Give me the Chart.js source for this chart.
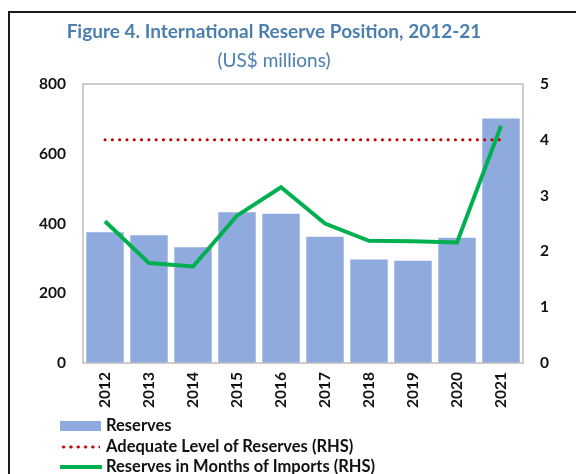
<!DOCTYPE html>
<html>
<head>
<meta charset="utf-8">
<title>International Reserve Position</title>
<script src="https://cdn.jsdelivr.net/npm/chart.js@4"></script>
<style>
    body { margin: 0; background: #fff; font-family: Lato, "Open Sans", sans-serif; }
    #wrap { position: relative; width: 578px; height: 474px; overflow: hidden; }
    #frame {
        position: absolute; left: 8px; top: 11px; width: 566px; height: 480px;
        border-top: 2px solid #1a1a1a; border-left: 2px solid #1a1a1a;
    }
    #chart { position: absolute; left: 0; top: 0; }
    .title { position: absolute; left: 0; width: 548px; text-align: center; color: #4a7fb0; line-height: 23px; }
    #t1 { top: 19px; font-size: 19px; font-weight: bold; }
    #t2 { top: 48px; font-size: 19px; }
    .legend { position: absolute; left: 60px; font-size: 16.5px; font-weight: bold; color: #111; }
    .legend .sw { position: absolute; left: 0; }
    .legend span { position: absolute; left: 46px; top: -11px; white-space: nowrap; }
    #lg1 .sw { top: -5px; width: 41px; height: 10px; background: #8FAADC; }
    #lg2 .sw {
        top: -2px; width: 40px; height: 4px;
        background-image: radial-gradient(circle, #C00000 1.3px, transparent 1.8px);
        background-size: 7.3px 4px;
    }
    #lg3 .sw { top: -2px; width: 42px; height: 4px; background: #00B050; }
</style>
</head>
<body>
<div id="wrap">
    <div id="frame"></div>
    <canvas id="chart" width="578" height="474"></canvas>
    <div class="title" id="t1">Figure 4. International Reserve Position, 2012-21</div>
    <div class="title" id="t2">(US$ millions)</div>
    <div class="legend" id="lg1" style="top:426px"><div class="sw"></div><span>Reserves</span></div>
    <div class="legend" id="lg2" style="top:447px"><div class="sw"></div><span>Adequate Level of Reserves (RHS)</span></div>
    <div class="legend" id="lg3" style="top:467px"><div class="sw"></div><span>Reserves in Months of Imports (RHS)</span></div>
</div>

<script>
// Années et séries
const years = ['2012', '2013', '2014', '2015', '2016', '2017', '2018', '2019', '2020', '2021'];
const reserves = [375, 366, 332, 432, 428, 362, 297, 293, 359, 701];
const adequateLevel = [4, 4, 4, 4, 4, 4, 4, 4, 4, 4];
const monthsOfImports = [2.54, 1.79, 1.73, 2.64, 3.15, 2.50, 2.19, 2.18, 2.16, 4.25];

const tickFont = { family: 'Lato, "Open Sans", sans-serif', size: 15.5, weight: 'bold' };

// Cadre gris autour de la zone de tracé
const plotFrame = {
    id: 'plotFrame',
    afterDraw(chart) {
        const a = chart.chartArea;
        const ctx = chart.ctx;
        ctx.save();
        ctx.strokeStyle = '#bdbdbd';
        ctx.lineWidth = 1.5;
        ctx.strokeRect(a.left, a.top, a.right - a.left, a.bottom - a.top);
        ctx.restore();
    }
};

new Chart(document.getElementById('chart'), {
    data: {
        labels: years,
        datasets: [
            {
                type: 'line',
                label: 'Reserves in Months of Imports (RHS)',
                data: monthsOfImports,
                yAxisID: 'yRight',
                borderColor: '#00B050',
                borderWidth: 4,
                pointRadius: 0,
                tension: 0,
                order: 0
            },
            {
                type: 'line',
                label: 'Adequate Level of Reserves (RHS)',
                data: adequateLevel,
                yAxisID: 'yRight',
                borderColor: '#C00000',
                borderWidth: 3,
                borderDash: [0.1, 7.2],
                borderCapStyle: 'round',
                pointRadius: 0,
                order: 1
            },
            {
                type: 'bar',
                label: 'Reserves',
                data: reserves,
                yAxisID: 'yLeft',
                backgroundColor: '#8FAADC',
                borderWidth: 0,
                categoryPercentage: 1,
                barPercentage: 0.85,
                order: 2
            }
        ]
    },
    options: {
        responsive: false,
        animation: false,
        layout: { padding: { top: 84, left: 0, right: 0, bottom: 0 } },
        plugins: {
            legend: { display: false },
            tooltip: { enabled: false }
        },
        scales: {
            x: {
                grid: { display: false },
                border: { display: false },
                ticks: {
                    font: tickFont,
                    color: '#111',
                    minRotation: 90,
                    maxRotation: 90,
                    padding: 1
                },
                afterFit(scale) { scale.height = 111; }
            },
            yLeft: {
                position: 'left',
                min: 0,
                max: 800,
                grid: { display: false },
                border: { display: false },
                ticks: { stepSize: 200, font: tickFont, color: '#111', padding: 9 },
                afterFit(scale) { scale.width = 83; }
            },
            yRight: {
                position: 'right',
                min: 0,
                max: 5,
                grid: { display: false },
                border: { display: false },
                ticks: { stepSize: 1, font: tickFont, color: '#111', padding: 9 },
                afterFit(scale) { scale.width = 55; }
            }
        }
    },
    plugins: [plotFrame]
});
</script>
</body>
</html>
